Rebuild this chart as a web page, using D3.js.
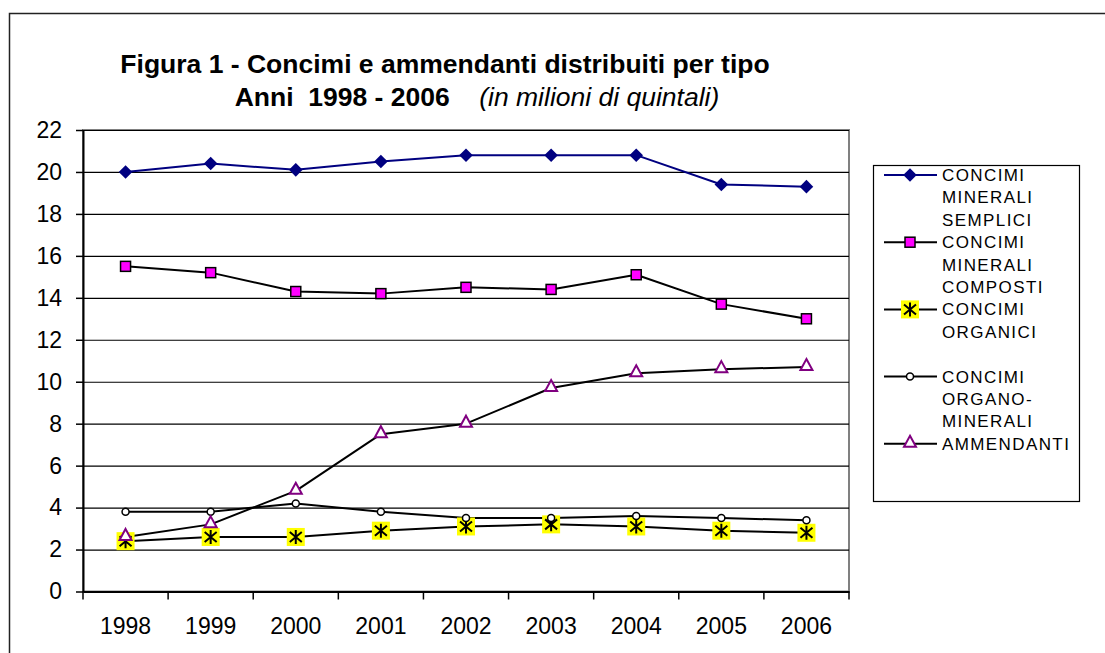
<!DOCTYPE html>
<html>
<head>
<meta charset="utf-8">
<script src="https://cdn.jsdelivr.net/npm/d3@7"></script>
<style>
  body { margin: 0; background: #fff; }
  svg { display: block; font-family: "Liberation Sans", Arial, sans-serif; }
</style>
</head>
<body>
<div class="chart"></div>
<script>
// Data (milioni di quintali)
const years = ["1998", "1999", "2000", "2001", "2002", "2003", "2004", "2005", "2006"];
const mineraliSemplici = [20.0, 20.4, 20.1, 20.5, 20.8, 20.8, 20.8, 19.4, 19.3];
const mineraliComposti = [15.5, 15.2, 14.3, 14.2, 14.5, 14.4, 15.1, 13.7, 13.0];
const organici = [2.4, 2.6, 2.6, 2.9, 3.1, 3.2, 3.1, 2.9, 2.8];
const organoMinerali = [3.8, 3.8, 4.2, 3.8, 3.5, 3.5, 3.6, 3.5, 3.4];
const ammendanti = [2.6, 3.2, 4.8, 7.5, 8.0, 9.7, 10.4, 10.6, 10.7];
const yTicks = [0, 2, 4, 6, 8, 10, 12, 14, 16, 18, 20, 22];

const seriesNames = [
    ["CONCIMI", "MINERALI", "SEMPLICI"],
    ["CONCIMI", "MINERALI", "COMPOSTI"],
    ["CONCIMI", "ORGANICI"],
    ["CONCIMI", "ORGANO-", "MINERALI"],
    ["AMMENDANTI"]
];

const series = [
    { values: mineraliSemplici, line: "#000080", marker: "diamond" },
    { values: mineraliComposti, line: "#000", marker: "square" },
    { values: organici, line: "#000", marker: "asterisk" },
    { values: organoMinerali, line: "#000", marker: "circle" },
    { values: ammendanti, line: "#000", marker: "triangle" }
];

const W = 1105, H = 653;
const plot = { left: 83, top: 130, right: 849, bottom: 591.5 };

const svg = d3.select(".chart")
    .append("svg")
    .attr("width", W)
    .attr("height", H);

// chart border
svg.append("rect")
    .attr("x", 9.5).attr("y", 13.5)
    .attr("width", W + 20).attr("height", H + 20)
    .attr("fill", "#fff")
    .attr("stroke", "#222")
    .attr("stroke-width", 1.5);

// title
const title = svg.append("g").attr("font-size", 26.5);
title.append("text")
    .attr("x", 445).attr("y", 73)
    .attr("text-anchor", "middle")
    .attr("font-weight", "bold")
    .text("Figura 1 - Concimi e ammendanti distribuiti per tipo");
const t2 = title.append("text")
    .attr("x", 477).attr("y", 106)
    .attr("text-anchor", "middle")
    .attr("xml:space", "preserve");
t2.append("tspan").attr("font-weight", "bold").text("Anni  1998 - 2006");
t2.append("tspan").attr("font-style", "italic").text("    (in milioni di quintali)");

// scales
const scaleX = d3.scaleBand()
    .domain(years)
    .range([plot.left, plot.right]);
const cx = (d) => scaleX(d) + scaleX.bandwidth() / 2;

const scaleY = d3.scaleLinear()
    .domain([0, 22])
    .range([plot.bottom, plot.top]);

// plot area border (gray)
svg.append("rect")
    .attr("x", plot.left).attr("y", plot.top)
    .attr("width", plot.right - plot.left)
    .attr("height", plot.bottom - plot.top)
    .attr("fill", "none")
    .attr("stroke", "#808080")
    .attr("stroke-width", 2);

// gridlines
svg.append("g")
    .attr("transform", "translate(" + plot.left + ",0)")
    .call(d3.axisLeft(scaleY).tickValues(yTicks)
        .tickSize(-(plot.right - plot.left)).tickFormat(""))
    .call(g => g.select(".domain").remove())
    .call(g => g.selectAll("line").attr("stroke", "#000").attr("stroke-width", 1.2));

// y axis
svg.append("g")
    .attr("transform", "translate(" + plot.left + ",0)")
    .call(d3.axisLeft(scaleY).tickValues(yTicks).tickSize(7).tickPadding(14).tickSizeOuter(0))
    .call(g => g.select(".domain").attr("stroke-width", 2))
    .call(g => g.selectAll("line").attr("stroke-width", 1.5))
    .call(g => g.selectAll("text")
        .attr("font-size", 23)
        .attr("font-family", "Liberation Sans, Arial, sans-serif")
        .attr("fill", "#000"));

// x axis
const xAxis = svg.append("g")
    .attr("transform", "translate(0," + plot.bottom + ")")
    .call(d3.axisBottom(scaleX).tickSize(0).tickPadding(26).tickSizeOuter(0))
    .call(g => g.select(".domain").attr("stroke-width", 2))
    .call(g => g.selectAll("text")
        .attr("font-size", 23)
        .attr("font-family", "Liberation Sans, Arial, sans-serif")
        .attr("fill", "#000"));

xAxis.selectAll(".bound")
    .data(years.concat(["end"]))
    .enter().append("line")
    .attr("class", "bound")
    .attr("x1", (d) => d === "end" ? plot.right : scaleX(d))
    .attr("x2", (d) => d === "end" ? plot.right : scaleX(d))
    .attr("y1", 0).attr("y2", 8)
    .attr("stroke", "#000")
    .attr("stroke-width", 1.5);

// marker drawing helper
const draw_marker = (g, type) => {
    if (type === "diamond") {
        g.append("path")
            .attr("d", d3.symbol(d3.symbolSquare, 92)())
            .attr("transform", "rotate(45)")
            .attr("fill", "#000080");
    } else if (type === "square") {
        g.append("rect")
            .attr("x", -5).attr("y", -5)
            .attr("width", 10).attr("height", 10)
            .attr("fill", "#ff00ff")
            .attr("stroke", "#000")
            .attr("stroke-width", 1.5);
    } else if (type === "asterisk") {
        g.append("rect")
            .attr("x", -9).attr("y", -9)
            .attr("width", 18).attr("height", 18)
            .attr("fill", "#ffff00");
        g.append("path")
            .attr("d", "M0,-7V7M-6,-5L6,5M-6,5L6,-5")
            .attr("stroke", "#000")
            .attr("stroke-width", 2)
            .attr("fill", "none");
    } else if (type === "circle") {
        g.append("circle")
            .attr("r", 3.5)
            .attr("fill", "#fff")
            .attr("stroke", "#000")
            .attr("stroke-width", 1.5);
    } else if (type === "triangle") {
        g.append("path")
            .attr("d", "M0,-7L6,4L-6,4Z")
            .attr("transform", "translate(0,-1)")
            .attr("fill", "#fff")
            .attr("stroke", "#800080")
            .attr("stroke-width", 2);
    }
};

// lines
for (let i = 0; i < series.length; i++) {
    let s = series[i];
    let lineFunc = d3.line()
        .x((d, k) => cx(years[k]))
        .y((d) => scaleY(d));

    svg.append("path")
        .attr("d", lineFunc(s.values))
        .attr("stroke", s.line)
        .attr("stroke-width", 2)
        .attr("stroke-linejoin", "round")
        .attr("fill", "none");
}

// markers (drawn after lines)
for (let i = 0; i < series.length; i++) {
    let s = series[i];
    svg.append("g")
        .selectAll("g")
        .data(s.values)
        .enter().append("g")
        .attr("transform", (d, k) => "translate(" + cx(years[k]) + "," + scaleY(d) + ")")
        .each(function() { draw_marker(d3.select(this), s.marker); });
}

// legend
const legend = svg.append("g");
legend.append("rect")
    .attr("x", 873.5).attr("y", 165.5)
    .attr("width", 206).attr("height", 336)
    .attr("fill", "#fff")
    .attr("stroke", "#000")
    .attr("stroke-width", 1.2);

const lineH = 22.4;
for (let i = 0; i < series.length; i++) {
    let y0 = 175 + i * 3 * lineH;
    let item = legend.append("g");
    item.append("line")
        .attr("x1", 884).attr("x2", 937)
        .attr("y1", y0).attr("y2", y0)
        .attr("stroke", series[i].line)
        .attr("stroke-width", 2);
    draw_marker(item.append("g").attr("transform", "translate(910," + y0 + ")"), series[i].marker);
    item.selectAll("text")
        .data(seriesNames[i])
        .enter().append("text")
        .attr("x", 942)
        .attr("y", (d, k) => y0 + k * lineH + 6)
        .attr("font-size", 17)
        .attr("letter-spacing", 1.4)
        .text((d) => d);
}
</script>
</body>
</html>
